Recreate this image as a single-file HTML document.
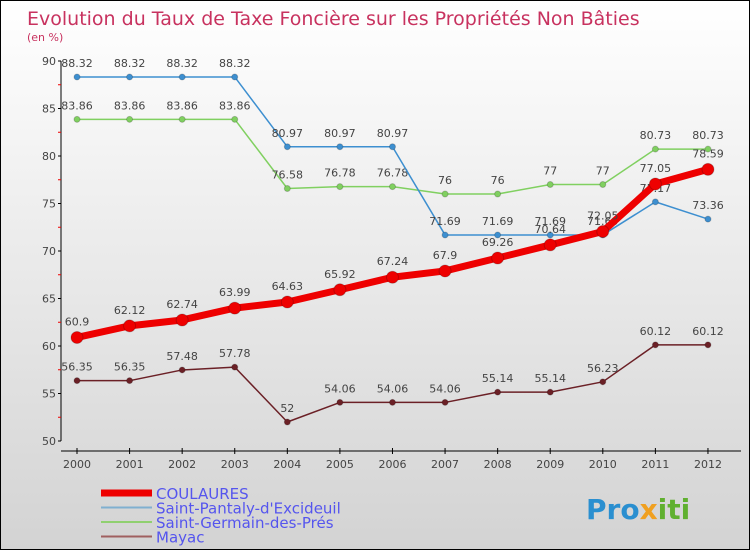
<!DOCTYPE html>
<html><head><meta charset="utf-8"><style>
body{margin:0;}
#wrap{width:750px;height:550px;position:relative;box-sizing:border-box;border:1px solid #000;background:linear-gradient(#ffffff,#d3d3d3);font-family:"DejaVu Sans","Liberation Sans",sans-serif;overflow:hidden}
svg{position:absolute;left:0;top:0}
</style></head><body>
<div id="wrap">
<svg id="s" width="750" height="550">
<text x="26" y="24" font-size="19" fill="#c8325f">Evolution du Taux de Taxe Foncière sur les Propriétés Non Bâties</text>
<text x="26" y="40" font-size="11" fill="#c8325f">(en %)</text>
<text x="585" y="518" font-size="28" font-weight="bold" fill="#2a8fd0">Pro<tspan fill="#f0a020">x</tspan><tspan fill="#60b030">iti</tspan></text>
</svg>
</div>
<script>
const years=[2000,2001,2002,2003,2004,2005,2006,2007,2008,2009,2010,2011,2012];
const yTicks=[50,55,60,65,70,75,80,85,90];
const coulaures=[60.9,62.12,62.74,63.99,64.63,65.92,67.24,67.9,69.26,70.64,72.05,77.05,78.59];
const pantaly=[88.32,88.32,88.32,88.32,80.97,80.97,80.97,71.69,71.69,71.69,71.69,75.17,73.36];
const germain=[83.86,83.86,83.86,83.86,76.58,76.78,76.78,76,76,77,77,80.73,80.73];
const mayac=[56.35,56.35,57.48,57.78,52,54.06,54.06,54.06,55.14,55.14,56.23,60.12,60.12];
const ns="http://www.w3.org/2000/svg",s=document.getElementById('s');
const X=i=>76+i*52.58, Y=v=>440-(v-50)*9.5;
function mk(t,a,p){const e=document.createElementNS(ns,t);for(const k in a)e.setAttribute(k,a[k]);(p||s).appendChild(e);return e;}
// axes
let ya=mk('line',{x1:60,y1:60,x2:60,y2:440,stroke:'#000'});


let xa=mk('line',{x1:60,y1:450,x2:740,y2:450,stroke:'#000'});


yTicks.forEach(v=>{mk('line',{x1:57,y1:Y(v),x2:60,y2:Y(v),stroke:'#000'});
 let t=mk('text',{x:55,y:Y(v)+4,'text-anchor':'end','font-size':11,fill:'#444'});t.textContent=v;
 
 
 if(v<90)mk('line',{x1:57,y1:Y(v+2.5),x2:60,y2:Y(v+2.5),stroke:'#e00'});});
years.forEach((y,i)=>{mk('line',{x1:X(i),y1:447,x2:X(i),y2:453,stroke:'#000'});
 let t=mk('text',{x:X(i),y:467,'text-anchor':'middle','font-size':11,fill:'#444'});t.textContent=y;
 
 });
function series(d,col,w,r,name,dy){
 const g=mk('g',{});
 
 
 mk('polyline',{points:d.map((v,i)=>X(i)+','+Y(v)).join(' '),fill:'none',stroke:col,'stroke-width':w,'stroke-linejoin':'round'},g);
 d.forEach((v,i)=>{mk('circle',{cx:X(i),cy:Y(v),r:r,fill:col,stroke:'#0003'},g);
  let t=mk('text',{x:X(i),y:Y(v)+dy,'text-anchor':'middle','font-size':11,fill:'#444'},g);t.textContent=v;
  
  });
}
series(mayac,'#6b2026',1.5,3,'series-mayac',-10);
series(germain,'#80d060',1.5,3,'series-saint-germain',-10);
series(pantaly,'#3d8fd0',1.5,3,'series-saint-pantaly',-10);
series(coulaures,'#ee0000',7,6,'series-coulaures',-12);
const leg=[['COULAURES','#ee0000',7],["Saint-Pantaly-d'Excideuil",'#80b0d0',2],['Saint-Germain-des-Prés','#90d070',2],['Mayac','#a06060',2]];
leg.forEach((l,i)=>{const y=492+i*14.5;
 const g=mk('g',{});
 
 
 mk('line',{x1:100,y1:y,x2:151,y2:y,stroke:l[1],'stroke-width':l[2]},g);
 let t=mk('text',{x:155,y:y+6,'font-size':15,fill:'#5555ee'},g);t.textContent=l[0];});
</script>
</body></html>
